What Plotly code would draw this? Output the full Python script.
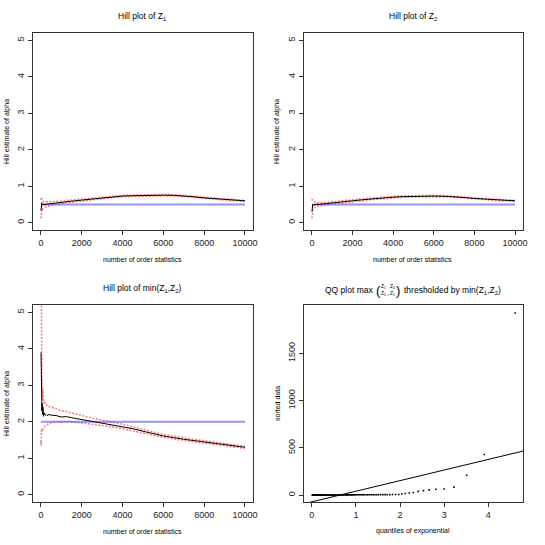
import plotly.graph_objects as go

# --- Hill plot of Z1 ---
k_top = [5, 10, 15, 20, 30, 40, 50, 75, 100, 150, 200, 300, 500, 750, 1000, 1500, 2000,
         2500, 3000, 3500, 4000, 4500, 5000, 5500, 6000, 6500, 7000, 7500, 8000, 8500,
         9000, 9500, 10000]
hill_z1 = [0.33, 0.55, 0.42, 0.52, 0.47, 0.55, 0.5, 0.48, 0.5, 0.49, 0.5, 0.51, 0.52, 0.54,
           0.56, 0.59, 0.62, 0.65, 0.68, 0.71, 0.73, 0.74, 0.75, 0.755, 0.755, 0.75, 0.74,
           0.71, 0.68, 0.655, 0.635, 0.615, 0.6]
upper_z1 = [0.62, 0.68, 0.63, 0.7, 0.64, 0.69, 0.64, 0.6, 0.6, 0.57, 0.57, 0.57, 0.57, 0.58,
            0.59, 0.62, 0.645, 0.675, 0.705, 0.73, 0.75, 0.76, 0.77, 0.775, 0.772, 0.767,
            0.756, 0.726, 0.695, 0.67, 0.648, 0.628, 0.612]
lower_z1 = [0.12, 0.2, 0.23, 0.3, 0.3, 0.38, 0.36, 0.37, 0.4, 0.41, 0.43, 0.45, 0.47, 0.5,
            0.53, 0.56, 0.595, 0.625, 0.655, 0.69, 0.71, 0.72, 0.73, 0.735, 0.738, 0.733,
            0.724, 0.694, 0.665, 0.64, 0.622, 0.602, 0.588]

# --- Hill plot of Z2 ---
hill_z2 = [0.3, 0.5, 0.45, 0.5, 0.47, 0.5, 0.48, 0.47, 0.49, 0.5, 0.5, 0.5, 0.51, 0.53, 0.55,
           0.57, 0.6, 0.63, 0.66, 0.68, 0.7, 0.715, 0.725, 0.73, 0.73, 0.725, 0.715, 0.69,
           0.665, 0.645, 0.625, 0.61, 0.6]
upper_z2 = [0.6, 0.62, 0.6, 0.63, 0.6, 0.62, 0.6, 0.58, 0.58, 0.57, 0.56, 0.55, 0.55, 0.56,
            0.58, 0.6, 0.625, 0.655, 0.683, 0.703, 0.72, 0.735, 0.745, 0.75, 0.748, 0.742,
            0.73, 0.705, 0.68, 0.66, 0.638, 0.622, 0.612]
lower_z2 = [0.12, 0.22, 0.25, 0.3, 0.3, 0.35, 0.35, 0.37, 0.4, 0.42, 0.44, 0.45, 0.47, 0.5,
            0.52, 0.54, 0.575, 0.605, 0.637, 0.657, 0.68, 0.695, 0.705, 0.71, 0.712, 0.708,
            0.7, 0.675, 0.65, 0.63, 0.612, 0.598, 0.588]

# --- Hill plot of min(Z1, Z2) ---
k_min = [5, 10, 15, 20, 25, 30, 40, 50, 60, 75, 100, 125, 150, 200, 250, 300, 400, 500, 750,
         1000, 1250, 1500, 2000, 2500, 3000, 3500, 4000, 4500, 5000, 6000, 7000, 8000, 9000,
         10000]
hill_min = [3.9, 2.9, 3.4, 2.6, 2.9, 2.4, 2.7, 2.3, 2.5, 2.2, 2.4, 2.15, 2.25, 2.18, 2.2,
            2.17, 2.2, 2.18, 2.17, 2.13, 2.14, 2.11, 2.06, 2.02, 1.98, 1.93, 1.87, 1.81, 1.74,
            1.61, 1.52, 1.44, 1.37, 1.3]
upper_min = [7.3, 5.2, 4.6, 3.7, 3.6, 3.1, 3.2, 2.9, 2.95, 2.6, 2.9, 2.5, 2.6, 2.5, 2.5, 2.43,
             2.42, 2.4, 2.36, 2.3, 2.28, 2.24, 2.16, 2.1, 2.05, 2.0, 1.93, 1.86, 1.79, 1.65,
             1.56, 1.47, 1.4, 1.33]
lower_min = [1.45, 1.35, 1.4, 1.6, 1.75, 1.65, 1.8, 1.72, 1.82, 1.78, 1.8, 1.83, 1.85, 1.88,
             1.9, 1.92, 1.95, 1.97, 2.0, 1.99, 2.01, 2.0, 1.97, 1.94, 1.91, 1.86, 1.81, 1.76,
             1.69, 1.57, 1.48, 1.41, 1.34, 1.27]

true_alpha_z = 0.5
true_alpha_min = 2.0

hill_ticks = [0, 2000, 4000, 6000, 8000, 10000]
hill_ticktext = ["0", "2000", "4000", "6000", "8000", "10000"]

# --- QQ plot ---
qq_x = [0.01, 0.02, 0.03, 0.04, 0.05, 0.06, 0.07, 0.08, 0.09, 0.11, 0.12, 0.13, 0.14, 0.15,
        0.16, 0.17, 0.19, 0.2, 0.21, 0.22, 0.24, 0.25, 0.26, 0.27, 0.29, 0.3, 0.31, 0.33,
        0.34, 0.36, 0.37, 0.39, 0.4, 0.42, 0.43, 0.45, 0.46, 0.48, 0.49, 0.51, 0.53, 0.54,
        0.56, 0.58, 0.6, 0.62, 0.63, 0.65, 0.67, 0.69, 0.71, 0.73, 0.76, 0.78, 0.8, 0.82,
        0.84, 0.87, 0.89, 0.92, 0.94, 0.97, 0.99, 1.02, 1.05, 1.08, 1.11, 1.14, 1.17, 1.2,
        1.24, 1.27, 1.31, 1.35, 1.39, 1.43, 1.47, 1.51, 1.56, 1.61, 1.66, 1.71, 1.77, 1.83,
        1.9, 1.97, 2.04, 2.12, 2.21, 2.3, 2.41, 2.53, 2.66, 2.81, 3.0, 3.22, 3.51, 3.91, 4.61]
qq_y = [0.3, 0.3, 0.4, 0.4, 0.4, 0.5, 0.5, 0.5, 0.6, 0.6, 0.6, 0.7, 0.7, 0.7, 0.8, 0.8, 0.8,
        0.9, 0.9, 1.0, 1.0, 1.0, 1.1, 1.1, 1.2, 1.2, 1.3, 1.3, 1.4, 1.4, 1.5, 1.5, 1.6, 1.6,
        1.7, 1.7, 1.8, 1.9, 1.9, 2.0, 2.1, 2.1, 2.2, 2.3, 2.3, 2.4, 2.5, 2.6, 2.6, 2.7, 2.8,
        2.9, 3.0, 3.1, 3.2, 3.3, 3.4, 3.5, 3.6, 3.7, 3.8, 3.9, 4.0, 4.1, 4.2, 4.3, 4.4, 4.5,
        4.6, 4.7, 4.8, 4.9, 5.0, 5.1, 5.2, 5.3, 5.4, 5.5, 5.6, 5.8, 6.0, 6.2, 6.4, 6.6, 6.8,
        7, 12, 18, 23, 28, 40, 48, 56, 62, 65, 85, 211, 430, 1925]
qq_intercept = -70
qq_slope = 112

W = 545
FONT = "Liberation Sans, Arial, sans-serif"
red = "rgba(255,0,0,0.5)"
blue = "rgba(60,60,255,0.55)"

# panel boxes in pixels: (left, right, top, bottom)
boxes = {
    1: (33, 255, 33, 230),
    2: (306, 527, 33, 230),
    3: (33, 255, 305, 502),
    4: (306, 527, 305, 502),
}


def fx(px):
    return px / W


def fy(py):
    return 1 - py / W


fig = go.Figure()


def hill_panel(n, k, est, up, lo, truth):
    xa = "x" if n == 1 else f"x{n}"
    ya = "y" if n == 1 else f"y{n}"
    fig.add_trace(go.Scatter(x=k, y=up, mode="lines", xaxis=xa, yaxis=ya,
                             line=dict(color=red, width=1.6, dash="2px,1.5px")))
    fig.add_trace(go.Scatter(x=k, y=lo, mode="lines", xaxis=xa, yaxis=ya,
                             line=dict(color=red, width=1.6, dash="2px,1.5px")))
    fig.add_trace(go.Scatter(x=[0, 10000], y=[truth, truth], mode="lines", xaxis=xa, yaxis=ya,
                             line=dict(color=blue, width=2)))
    fig.add_trace(go.Scatter(x=k, y=est, mode="lines", xaxis=xa, yaxis=ya,
                             line=dict(color="black", width=1)))


hill_panel(1, k_top, hill_z1, upper_z1, lower_z1, true_alpha_z)
hill_panel(2, k_top, hill_z2, upper_z2, lower_z2, true_alpha_z)
hill_panel(3, k_min, hill_min, upper_min, lower_min, true_alpha_min)

qq_xrange = [-0.184, 4.79]
fig.add_trace(go.Scatter(x=qq_x, y=qq_y, mode="markers", xaxis="x4", yaxis="y4",
                         marker=dict(color="black", size=1.6, symbol="square",
                                     line=dict(width=0))))
fig.add_trace(go.Scatter(x=qq_xrange, y=[qq_intercept + qq_slope * v for v in qq_xrange],
                         mode="lines", xaxis="x4", yaxis="y4",
                         line=dict(color="black", width=1)))

axis_common = dict(showline=True, mirror=True, linecolor="#333", linewidth=1,
                   showgrid=False, zeroline=False, ticks="outside", ticklen=4,
                   tickcolor="#333", tickfont=dict(size=9, color="#222", family=FONT))

layout = {}
for n, (l, r, t, b) in boxes.items():
    sx = "" if n == 1 else str(n)
    layout[f"xaxis{sx}"] = dict(domain=[fx(l), fx(r)], anchor=f"y{sx}", **axis_common)
    layout[f"yaxis{sx}"] = dict(domain=[fy(b), fy(t)], anchor=f"x{sx}",
                                tickangle=-90, **axis_common)
    if n < 4:
        layout[f"xaxis{sx}"].update(range=[-400, 10400], tickvals=hill_ticks,
                                    ticktext=hill_ticktext)
        layout[f"yaxis{sx}"].update(range=[-0.2, 5.2], tickvals=[0, 1, 2, 3, 4, 5])
    else:
        layout[f"xaxis{sx}"].update(range=qq_xrange, tickvals=[0, 1, 2, 3, 4])
        layout[f"yaxis{sx}"].update(range=[-72, 2010], tickvals=[0, 500, 1000, 1500])

fig.update_layout(**layout)


def px_ann(text, x, y, size=8, angle=0, xanchor="center"):
    fig.add_annotation(text=text, x=fx(x), y=fy(y), xref="paper", yref="paper",
                       showarrow=False, textangle=angle, xanchor=xanchor, yanchor="middle",
                       font=dict(size=size, color="black", family=FONT))


# titles
px_ann("Hill plot of Z<sub>1</sub>", 144, 16, size=8.5)
px_ann("Hill plot of Z<sub>2</sub>", 416, 16, size=8.5)
px_ann("Hill plot of min(Z<sub>1</sub>,Z<sub>2</sub>)", 144, 288, size=8.5)
px_ann("QQ plot max", 378, 290, size=8.5, xanchor="right")
px_ann("(", 381, 290, size=13)
px_ann("Z<sub>1</sub><br>Z<sub>2</sub>", 386.5, 290, size=5)
px_ann(",", 391, 292, size=7)
px_ann("Z<sub>2</sub><br>Z<sub>1</sub>", 395.5, 290, size=5)
px_ann(")", 400.5, 290, size=13)
px_ann("thresholded by min(Z<sub>1</sub>,Z<sub>2</sub>)", 405, 290, size=8.5, xanchor="left")

# axis titles
for cx in (144, 416):
    px_ann("number of order statistics", cx, 259, size=7)
px_ann("number of order statistics", 144, 531, size=7)
px_ann("quantiles of exponential", 416, 531, size=7)
px_ann("Hill estimate of alpha", 7, 131, size=7, angle=-90)
px_ann("Hill estimate of alpha", 279, 131, size=7, angle=-90)
px_ann("Hill estimate of alpha", 7, 403, size=7, angle=-90)
px_ann("sorted data", 279, 403, size=7, angle=-90)

fig.update_layout(width=W, height=W, margin=dict(l=0, r=0, t=0, b=0),
                  paper_bgcolor="white", plot_bgcolor="white", showlegend=False)

# drop the default 8px page margin so the chart sits at the window's top-left corner
fig.write_html("out.html", config={"displayModeBar": False},
               post_script="document.body.style.margin='0';")
